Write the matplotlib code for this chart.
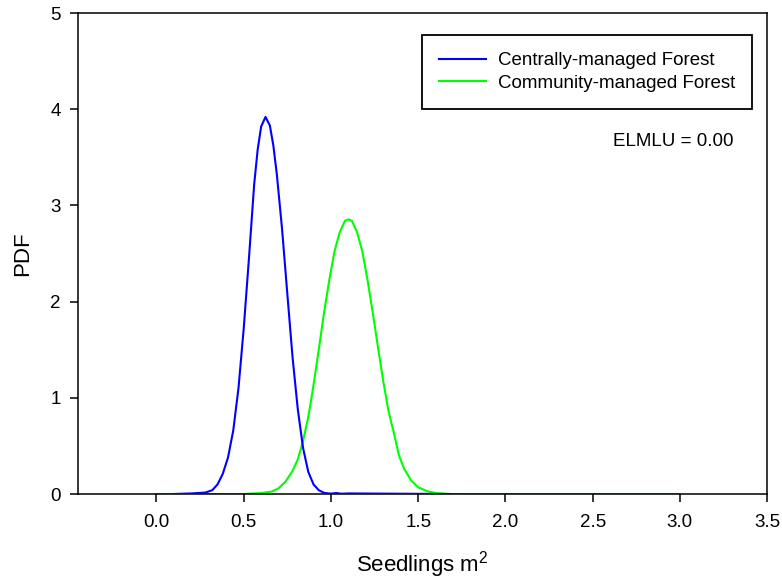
import matplotlib
matplotlib.use("Agg")
import matplotlib.pyplot as plt

plt.rcParams['font.family'] = ['Liberation Sans', 'DejaVu Sans']
plt.rcParams['mathtext.default'] = 'regular'

# values
central_x = [0.10, 0.20, 0.28, 0.32, 0.35, 0.38, 0.41, 0.44, 0.47, 0.50, 0.53, 0.56,
             0.58, 0.60, 0.625, 0.65, 0.67, 0.69, 0.72, 0.75, 0.78, 0.81, 0.84, 0.87,
             0.90, 0.93, 0.96, 1.00, 1.03, 1.06, 1.10, 1.68]
central_y = [0.000, 0.006, 0.015, 0.04, 0.10, 0.21, 0.38, 0.66, 1.10, 1.72, 2.45, 3.22,
             3.58, 3.82, 3.92, 3.83, 3.62, 3.32, 2.75, 2.08, 1.42, 0.88, 0.48, 0.23,
             0.10, 0.04, 0.012, 0.004, 0.010, 0.003, 0.006, 0.000]

community_x = [0.00, 0.50, 0.60, 0.66, 0.70, 0.74, 0.78, 0.81, 0.84, 0.87, 0.90, 0.93,
               0.96, 0.99, 1.02, 1.05, 1.08, 1.10, 1.12, 1.15, 1.18, 1.21, 1.24, 1.27,
               1.30, 1.33, 1.36, 1.39, 1.42, 1.46, 1.50, 1.55, 1.60, 1.68, 3.00]
community_y = [0.000, 0.000, 0.010, 0.025, 0.06, 0.13, 0.24, 0.36, 0.55, 0.80, 1.13, 1.50,
               1.88, 2.22, 2.52, 2.72, 2.84, 2.855, 2.84, 2.72, 2.52, 2.22, 1.88, 1.52,
               1.17, 0.86, 0.64, 0.40, 0.26, 0.14, 0.07, 0.03, 0.01, 0.000, 0.000]

x_ticks = [0.0, 0.5, 1.0, 1.5, 2.0, 2.5, 3.0, 3.5]
y_ticks = [0, 1, 2, 3, 4, 5]

fig = plt.figure(figsize=(7.82, 5.79), dpi=100)
ax = fig.add_axes([0.0997, 0.1468, 0.8813, 0.8307])

ax.plot(community_x, community_y, color="#00ff00", lw=1.5, zorder=2,
        label="Community-managed Forest")
ax.plot(central_x, central_y, color="#0000ff", lw=1.5, zorder=3,
        label="Centrally-managed Forest")

ax.set_xlim(-0.45, 3.5)
ax.set_ylim(0, 5)
ax.set_xticks(x_ticks)
ax.set_xticklabels(["%.1f" % t for t in x_ticks])
ax.set_yticks(y_ticks)
ax.tick_params(direction="out", length=5.5, width=1.1, labelsize=13.5, pad=7,
               top=False, right=False)
ax.tick_params(axis="x", pad=9)
for s in ax.spines.values():
    s.set_linewidth(1.1)

ax.set_xlabel("Seedlings m$^2$", fontsize=16, labelpad=13)
ax.set_ylabel("PDF", fontsize=16, labelpad=12)

handles, labels = ax.get_legend_handles_labels()
leg = ax.legend(handles[::-1], labels[::-1], loc="upper right",
                bbox_to_anchor=(0.9787, 0.954), borderaxespad=0,
                fontsize=13.5, fancybox=False, framealpha=1, edgecolor="black",
                handlelength=2.5, handletextpad=0.65, borderpad=0.9,
                labelspacing=0.3)
leg.get_frame().set_linewidth(1.3)

ax.text(0.951, 0.7325, "ELMLU = 0.00", transform=ax.transAxes,
        ha="right", va="center", fontsize=13.5)

plt.savefig("out.png", dpi=100)
